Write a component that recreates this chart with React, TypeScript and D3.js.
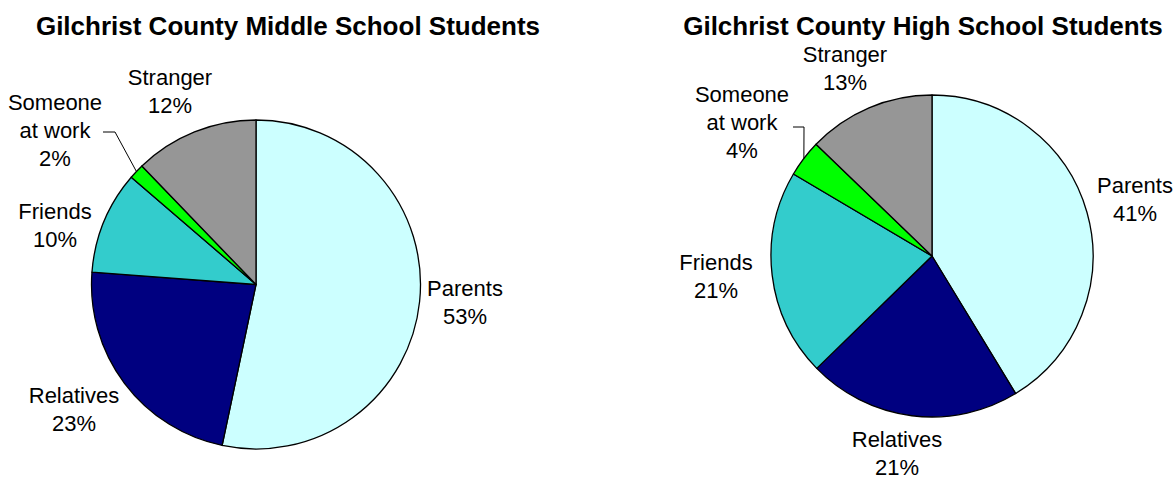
import * as d3 from 'd3'

// slice categories, clockwise from 12 o'clock
const categories = ['Parents', 'Relatives', 'Friends', 'Someone at work', 'Stranger']
const colors = ['#ccffff', '#000080', '#33cccc', '#00ff00', '#969696']

// percent of students
const middleValues = [53.3, 22.9, 10.1, 1.5, 12.2]
const highValues = [41.3, 21.4, 20.8, 3.7, 12.8]

const middleTitle = 'Gilchrist County Middle School Students'
const highTitle = 'Gilchrist County High School Students'

const FONT = '"Liberation Sans", Arial, sans-serif'

interface LabelPos {
  x: number
  y: number
  lines: string[]
}

interface PieProps {
  title: string
  titleX: number
  values: number[]
  cx: number
  cy: number
  r: number
  labels: LabelPos[]
  leader: { x1: number; x2: number; y: number; idx: number }
}

function Pie({ title, titleX, values, cx, cy, r, labels, leader }: PieProps) {
  const pie = d3.pie<number>().sort(null).value(d => d)
  const arcs = pie(values)
  const arc = d3.arc<d3.PieArcDatum<number>>().innerRadius(0).outerRadius(r)

  // leader line goes to the outer edge of the slice, at its middle angle
  const la = arcs[leader.idx]
  const mid = (la.startAngle + la.endAngle) / 2
  const ex = cx + Math.sin(mid) * r
  const ey = cy - Math.cos(mid) * r

  return (
    <g>
      <text x={titleX} y={35} textAnchor="middle" fontFamily={FONT} fontWeight="bold" fontSize={26}>
        {title}
      </text>
      <g transform={`translate(${cx},${cy})`}>
        {arcs.map((a, i) => (
          <path key={categories[i]} d={arc(a)!} fill={colors[i]} stroke="#000" strokeWidth={1.3} strokeLinejoin="round" />
        ))}
      </g>
      <polyline
        points={`${leader.x1},${leader.y} ${leader.x2},${leader.y} ${ex},${ey}`}
        fill="none"
        stroke="#000"
        strokeWidth={1}
      />
      {labels.map((l, i) => (
        <text key={i} x={l.x} y={l.y} textAnchor="middle" fontFamily={FONT} fontSize={22} fill="#000">
          {[...l.lines, `${Math.round(values[i])}%`].map((s, j) => (
            <tspan key={j} x={l.x} dy={j === 0 ? 0 : 28}>
              {s}
            </tspan>
          ))}
        </text>
      ))}
    </g>
  )
}

export default function App() {
  const middleLabels: LabelPos[] = [
    { x: 465, y: 296, lines: ['Parents'] },
    { x: 74, y: 403, lines: ['Relatives'] },
    { x: 55, y: 219, lines: ['Friends'] },
    { x: 55, y: 110, lines: ['Someone', 'at work'] },
    { x: 170, y: 85, lines: ['Stranger'] },
  ]
  const highLabels: LabelPos[] = [
    { x: 1135, y: 193, lines: ['Parents'] },
    { x: 897, y: 447, lines: ['Relatives'] },
    { x: 716, y: 270, lines: ['Friends'] },
    { x: 742, y: 102, lines: ['Someone', 'at work'] },
    { x: 845, y: 62, lines: ['Stranger'] },
  ]

  return (
    <svg width={1176} height={479} style={{ position: 'absolute', left: 0, top: 0, background: '#fff' }}>
      <Pie
        title={middleTitle}
        titleX={288}
        values={middleValues}
        cx={256}
        cy={284.5}
        r={164.5}
        labels={middleLabels}
        leader={{ x1: 103, x2: 115, y: 132, idx: 3 }}
      />
      <Pie
        title={highTitle}
        titleX={923}
        values={highValues}
        cx={932}
        cy={256}
        r={161}
        labels={highLabels}
        leader={{ x1: 793, x2: 804, y: 127, idx: 3 }}
      />
    </svg>
  )
}
